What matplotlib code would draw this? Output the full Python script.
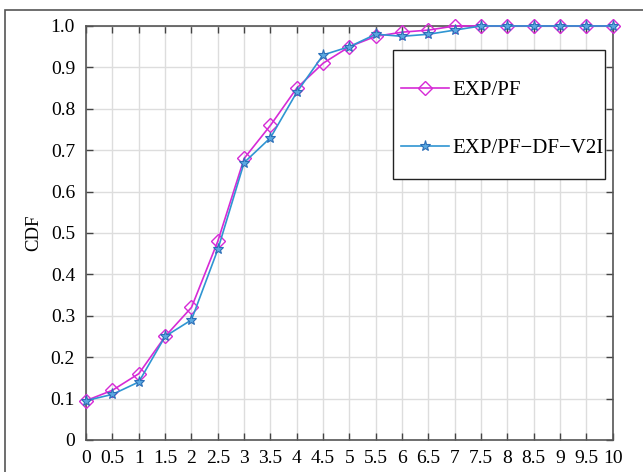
import numpy as np
import matplotlib
matplotlib.use("Agg")
import matplotlib.pyplot as plt
from matplotlib.patches import Rectangle

# ---- data ----
x = [0, 0.5, 1, 1.5, 2, 2.5, 3, 3.5, 4, 4.5, 5, 5.5, 6, 6.5, 7, 7.5, 8, 8.5, 9, 9.5, 10]
exp_pf = [0.095, 0.12, 0.16, 0.25, 0.32, 0.48, 0.68, 0.76, 0.85, 0.91, 0.95, 0.975,
          0.985, 0.99, 1.0, 1.0, 1.0, 1.0, 1.0, 1.0, 1.0]
exp_pf_df_v2i = [0.095, 0.11, 0.14, 0.25, 0.29, 0.46, 0.67, 0.73, 0.84, 0.93, 0.95, 0.98,
                 0.975, 0.98, 0.99, 1.0, 1.0, 1.0, 1.0, 1.0, 1.0]
xticks = x
xticklabels = ["0", "0.5", "1", "1.5", "2", "2.5", "3", "3.5", "4", "4.5", "5", "5.5",
               "6", "6.5", "7", "7.5", "8", "8.5", "9", "9.5", "10"]
yticks = [0, 0.1, 0.2, 0.3, 0.4, 0.5, 0.6, 0.7, 0.8, 0.9, 1.0]
yticklabels = ["0", "0.1", "0.2", "0.3", "0.4", "0.5", "0.6", "0.7", "0.8", "0.9", "1.0"]

plt.rcParams.update({"font.family": ["Liberation Serif", "DejaVu Serif"]})

fig = plt.figure(figsize=(6.43, 4.72), dpi=100)
ax = fig.add_axes([0.134, 0.068, 0.819, 0.877])

# outer frame around the figure (right and bottom edges run off the image)
fig.patches.append(Rectangle((5 / 643, -0.05), 1.0, 1 - 10 / 472 + 0.05,
                             transform=fig.transFigure, fill=False,
                             ec="#555555", lw=1.2))

ax.plot(x, exp_pf, color="#d62ad6", lw=1.2, marker="D", ms=7, mfc="none",
        mec="#d62ad6", mew=1.0, label="EXP/PF", zorder=3, clip_on=False)
ax.plot(x, exp_pf_df_v2i, color="#2f95d2", lw=1.2, marker="*", ms=8, mfc="#5aa8e0",
        mec="#2c6fb8", mew=0.8, label="EXP/PF\u2212DF\u2212V2I", zorder=3, clip_on=False)

ax.set_xlim(0, 10)
ax.set_ylim(0, 1.0)
ax.set_xticks(xticks)
ax.set_xticklabels(xticklabels)
ax.set_yticks(yticks)
ax.set_yticklabels(yticklabels)
ax.tick_params(direction="in", top=True, right=True, length=5, width=1,
               labelsize=14, color="#444444")
ax.tick_params(axis="x", pad=7)
ax.tick_params(axis="y", pad=8)
ax.grid(True, color="#dddddd", lw=1.0)
ax.set_axisbelow(True)
for s in ax.spines.values():
    s.set_color("#555555")
    s.set_linewidth(1.2)
ax.set_ylabel("CDF", fontsize=13.5, labelpad=6)

# legend frame drawn separately (padding is taller than it is wide)
ax.add_patch(Rectangle((0.583, 0.630), 0.402, 0.312, transform=ax.transAxes,
                       fc="white", ec="#222222", lw=1.0, zorder=4))
leg = ax.legend(loc="center left", bbox_to_anchor=(0.598, 0.775), fontsize=15,
                frameon=False, labelspacing=1.85, handlelength=2.3,
                handletextpad=0.15, borderpad=0, borderaxespad=0)
leg.set_zorder(5)

fig.savefig("out.png", dpi=100)
